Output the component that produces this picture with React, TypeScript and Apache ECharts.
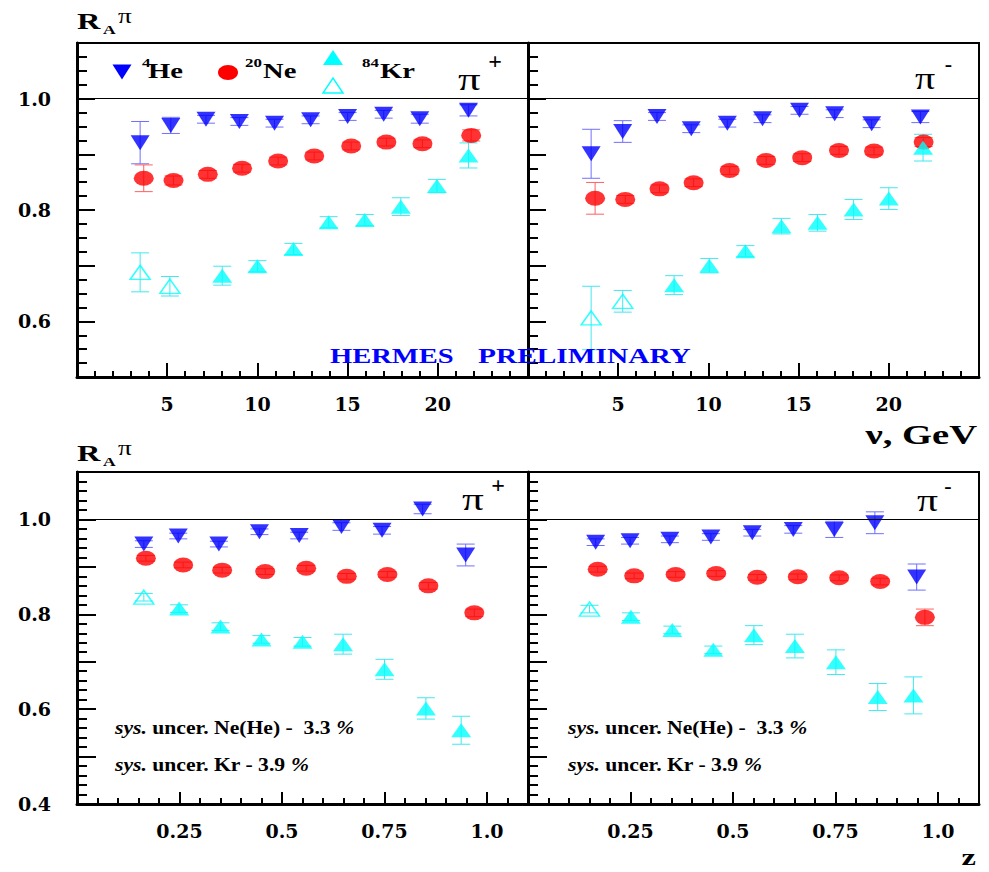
import React, { useEffect, useRef } from 'react';
import * as echarts from 'echarts';

// ---------- data: pi+ vs nu (top left) ----------
const nuHePlus = [3.5, 5.2, 7.15, 9.0, 10.95, 12.95, 15.0, 17.0, 19.0, 21.7];
const heNuPlus = [0.921, 0.952, 0.963, 0.959, 0.956, 0.962, 0.968, 0.972, 0.964, 0.979];
const heNuPlusErr = [0.038, 0.0145, 0.007, 0.007, 0.007, 0.007, 0.007, 0.007, 0.008, 0.01];
const nuNePlus = [3.7, 5.35, 7.25, 9.15, 11.15, 13.15, 15.2, 17.15, 19.15, 21.85];
const neNuPlus = [0.857, 0.853, 0.864, 0.875, 0.888, 0.897, 0.915, 0.922, 0.919, 0.934];
const neNuPlusErr = [0.024, 0.008, 0.007, 0.007, 0.007, 0.007, 0.007, 0.007, 0.007, 0.01];
const nuKrPlus = [3.5, 5.15, 8.05, 10.0, 12.0, 13.95, 15.95, 17.95, 19.95, 21.7];
const krNuPlus = [0.688, 0.663, 0.682, 0.699, 0.73, 0.778, 0.782, 0.806, 0.843, 0.898];
const krNuPlusErr = [0.035, 0.0175, 0.017, 0.01, 0.01, 0.01, 0.01, 0.016, 0.012, 0.0225];
const krNuPlusOpen = [true, true, false, false, false, false, false, false, false, false];

// ---------- data: pi- vs nu (top right) ----------
const nuHeMinus = [3.5, 5.25, 7.15, 9.05, 11.05, 13.0, 15.05, 17.0, 19.05, 21.75];
const heNuMinus = [0.901, 0.941, 0.968, 0.946, 0.956, 0.964, 0.979, 0.973, 0.955, 0.967];
const heNuMinusErr = [0.044, 0.0195, 0.007, 0.007, 0.007, 0.007, 0.007, 0.007, 0.007, 0.01];
const nuNeMinus = [3.72, 5.39, 7.29, 9.18, 11.18, 13.2, 15.2, 17.24, 19.18, 21.93];
const neNuMinus = [0.821, 0.819, 0.838, 0.849, 0.871, 0.889, 0.894, 0.907, 0.906, 0.922];
const neNuMinusErr = [0.0285, 0.007, 0.007, 0.007, 0.007, 0.007, 0.007, 0.007, 0.007, 0.008];
const nuKrMinus = [3.5, 5.25, 8.1, 10.05, 12.05, 14.05, 16.05, 18.05, 20.0, 21.9];
const krNuMinus = [0.606, 0.636, 0.665, 0.7, 0.726, 0.771, 0.777, 0.801, 0.8205, 0.912];
const krNuMinusErr = [0.057, 0.0195, 0.017, 0.013, 0.01, 0.014, 0.015, 0.018, 0.0195, 0.024];
const krNuMinusOpen = [true, true, false, false, false, false, false, false, false, false];

// ---------- data: pi+ vs z (bottom left) ----------
const zHePlus = [0.163, 0.247, 0.346, 0.445, 0.542, 0.645, 0.744, 0.843, 0.948];
const heZPlus = [0.948, 0.965, 0.948, 0.974, 0.966, 0.985, 0.977, 1.022, 0.925];
const heZPlusErr = [0.007, 0.006, 0.006, 0.006, 0.007, 0.008, 0.008, 0.01, 0.023];
const zNePlus = [0.168, 0.259, 0.354, 0.459, 0.559, 0.658, 0.757, 0.857, 0.969];
const neZPlus = [0.918, 0.904, 0.893, 0.89, 0.897, 0.88, 0.884, 0.86, 0.803];
const neZPlusErr = [0.006, 0.006, 0.006, 0.006, 0.006, 0.006, 0.006, 0.007, 0.008];
const zKrPlus = [0.163, 0.249, 0.35, 0.45, 0.55, 0.649, 0.75, 0.851, 0.937];
const krZPlus = [0.836, 0.812, 0.774, 0.747, 0.742, 0.737, 0.684, 0.6015, 0.5555];
const krZPlusErr = [0.008, 0.008, 0.008, 0.008, 0.009, 0.021, 0.021, 0.0225, 0.0295];
const krZPlusOpen = [true, false, false, false, false, false, false, false, false];

// ---------- data: pi- vs z (bottom right) ----------
const zHeMinus = [0.165, 0.249, 0.346, 0.446, 0.547, 0.647, 0.747, 0.846, 0.948];
const heZMinus = [0.952, 0.955, 0.958, 0.963, 0.972, 0.979, 0.979, 0.993, 0.8785];
const heZMinusErr = [0.007, 0.007, 0.007, 0.007, 0.007, 0.008, 0.017, 0.023, 0.0275];
const zNeMinus = [0.17, 0.259, 0.36, 0.459, 0.559, 0.658, 0.759, 0.859, 0.968];
const neZMinus = [0.895, 0.881, 0.884, 0.886, 0.878, 0.879, 0.877, 0.869, 0.7935];
const neZMinusErr = [0.006, 0.006, 0.006, 0.006, 0.006, 0.006, 0.006, 0.007, 0.0175];
const zKrMinus = [0.15, 0.251, 0.352, 0.452, 0.551, 0.651, 0.751, 0.853, 0.94];
const krZMinus = [0.811, 0.795, 0.767, 0.725, 0.756, 0.733, 0.699, 0.6255, 0.629];
const krZMinusErr = [0.008, 0.008, 0.008, 0.008, 0.02, 0.025, 0.026, 0.0285, 0.039];
const krZMinusOpen = [true, false, false, false, false, false, false, false, false];

// ---------- axis tick labels ----------
const nuTickLabels = ['5', '10', '15', '20'];
const zTickLabels = ['0.25', '0.5', '0.75', '1.0'];
const ratioTickLabels = ['0.4', '0.6', '0.8', '1.0'];

const HE_COLOR = '#0000ff';
const NE_COLOR = '#ff0000';
const KR_COLOR = '#00ffff';
const ELLIPSE = 'path://M0,5a5,5 0 1,0 10,0a5,5 0 1,0 -10,0z';
const LABEL_FONT = 'DejaVu Serif';
const TEXT_FONT = 'Liberation Serif';

function errSeries(xi: number, yi: number, xs: number[], ys: number[], es: number[], color: string) {
  return {
    type: 'custom',
    xAxisIndex: xi,
    yAxisIndex: yi,
    z: 2,
    silent: true,
    data: xs.map((x, i) => [x, ys[i] - es[i], ys[i] + es[i]]),
    renderItem: (_p: any, api: any) => {
      const x = api.value(0);
      const lo = api.coord([x, api.value(1)]);
      const hi = api.coord([x, api.value(2)]);
      const w = 9;
      const st = { stroke: color, lineWidth: 1 };
      return {
        type: 'group',
        children: [
          { type: 'line', shape: { x1: lo[0], y1: lo[1], x2: hi[0], y2: hi[1] }, style: st },
          { type: 'line', shape: { x1: lo[0] - w, y1: lo[1], x2: lo[0] + w, y2: lo[1] }, style: st },
          { type: 'line', shape: { x1: hi[0] - w, y1: hi[1], x2: hi[0] + w, y2: hi[1] }, style: st },
        ],
      };
    },
  };
}

type PanelData = {
  heX: number[]; he: number[]; heE: number[];
  neX: number[]; ne: number[]; neE: number[];
  krX: number[]; kr: number[]; krE: number[]; krOpen: boolean[];
};

function panelSeries(xi: number, yi: number, d: PanelData) {
  return [
    errSeries(xi, yi, d.heX, d.he, d.heE, '#7070ff'),
    errSeries(xi, yi, d.neX, d.ne, d.neE, '#ff6060'),
    errSeries(xi, yi, d.krX, d.kr, d.krE, '#40e8f0'),
    {
      type: 'scatter', xAxisIndex: xi, yAxisIndex: yi, z: 3,
      symbol: 'triangle', symbolRotate: 180, symbolSize: [19, 15],
      itemStyle: { color: HE_COLOR },
      data: d.heX.map((x, i) => [x, d.he[i]]),
      markLine: {
        silent: true, symbol: ['none', 'none'], label: { show: false },
        lineStyle: { color: '#000', width: 1, type: 'solid' },
        data: [{ yAxis: 1.0 }],
      },
    },
    {
      type: 'scatter', xAxisIndex: xi, yAxisIndex: yi, z: 4,
      symbol: ELLIPSE, symbolSize: [20, 15],
      itemStyle: { color: NE_COLOR },
      data: d.neX.map((x, i) => [x, d.ne[i]]),
    },
    {
      type: 'scatter', xAxisIndex: xi, yAxisIndex: yi, z: 5,
      symbol: 'triangle', symbolSize: [20, 14],
      itemStyle: { color: KR_COLOR },
      data: d.krX.map((x, i) => ({
        value: [x, d.kr[i]],
        itemStyle: d.krOpen[i]
          ? { color: 'rgba(255,255,255,0)', borderColor: KR_COLOR, borderWidth: 1.5 }
          : { color: KR_COLOR },
      })),
    },
  ];
}

const labelStyle = { fontFamily: LABEL_FONT, fontWeight: 'bold', fontSize: 19, color: '#000' };

function yAxisCfg(gi: number, min: number, minorSplit: number, majorLen: number, showLabels: boolean) {
  return {
    gridIndex: gi, type: 'value', min, max: 1.1, interval: 0.1, position: 'left',
    axisLine: { show: true, onZero: false, lineStyle: { color: '#000', width: 3 } },
    axisTick: { show: true, inside: true, length: majorLen, lineStyle: { color: '#000', width: 2 } },
    minorTick: { show: true, splitNumber: minorSplit, length: 10, lineStyle: { color: '#000', width: 2 } },
    splitLine: { show: false },
    axisLabel: {
      show: showLabels, margin: 26, ...labelStyle,
      formatter: (v: number) => (ratioTickLabels.includes(v.toFixed(1)) ? v.toFixed(1) : ''),
    },
  };
}

function nuAxis(gi: number) {
  return {
    gridIndex: gi, type: 'value', min: 0, max: 25, interval: 5, position: 'bottom',
    axisLine: { show: true, onZero: false, lineStyle: { color: '#000', width: 3 } },
    axisTick: { show: true, inside: true, length: 14, lineStyle: { color: '#000', width: 2 } },
    minorTick: { show: true, splitNumber: 5, length: 6, lineStyle: { color: '#000', width: 2 } },
    splitLine: { show: false },
    axisLabel: {
      margin: 17, ...labelStyle,
      formatter: (v: number) => {
        const s = String(Math.round(v));
        return Math.abs(v - Math.round(v)) < 1e-6 && nuTickLabels.includes(s) ? s : '';
      },
    },
  };
}

function zAxes(gi: number) {
  return [
    {
      gridIndex: gi, type: 'value', min: 0, max: 1.1, interval: 0.25, position: 'bottom',
      axisLine: { show: true, onZero: false, lineStyle: { color: '#000', width: 3 } },
      axisTick: { show: true, inside: true, length: 12, lineStyle: { color: '#000', width: 2 } },
      splitLine: { show: false },
      axisLabel: {
        margin: 17, ...labelStyle,
        formatter: (v: number) => {
          const r = Math.round(v * 100) / 100;
          const s = r === 1 ? '1.0' : String(r);
          return zTickLabels.includes(s) ? s : '';
        },
      },
    },
    {
      gridIndex: gi, type: 'value', min: 0, max: 1.1, interval: 0.05, position: 'bottom',
      axisLine: { show: false, onZero: false },
      axisTick: { show: true, inside: true, length: 6, lineStyle: { color: '#000', width: 2 } },
      splitLine: { show: false },
      axisLabel: { show: false },
    },
  ];
}

function txt(text: string, x: number, y: number, size: number, o: any = {}) {
  const align = o.align ?? 'left';
  return {
    type: 'text', x, y, scaleX: o.sx ?? 1.35, z: 100, silent: true,
    style: {
      text, fill: o.color ?? '#000', fontFamily: o.font ?? TEXT_FONT, fontSize: size,
      fontWeight: o.weight ?? 'bold', fontStyle: o.fontStyle ?? 'normal',
      align, textAlign: align, verticalAlign: 'middle', textVerticalAlign: 'middle',
      lineHeight: o.lh, rich: o.rich,
    },
  };
}

function sysText(x: number, y: number, rest: string) {
  const rich = {
    it: { fontFamily: TEXT_FONT, fontSize: 19, fontWeight: 'bold', fontStyle: 'italic', fill: '#000' },
    b: { fontFamily: TEXT_FONT, fontSize: 19, fontWeight: 'bold', fill: '#000' },
  };
  return txt(`{it|sys.}{b| uncer. ${rest} }{it|%}`, x, y, 19, { sx: 1.14, rich });
}

function graphics() {
  const g: any[] = [];
  // axis titles
  for (const base of [21, 453]) {
    g.push(txt('R', 77, base, 24));
    g.push(txt('A', 103, base + 8.5, 13));
    g.push(txt('π', 118, base - 5, 21, { weight: 'normal', sx: 1.3 }));
  }
  // legend
  g.push({ type: 'polygon', z: 100, shape: { points: [[112.5, 64.5], [131.5, 64.5], [122, 79.5]] }, style: { fill: HE_COLOR } });
  g.push(txt('4', 142, 62.5, 13, { sx: 1.3 }));
  g.push(txt('He', 148, 70.5, 22, { sx: 1.3 }));
  g.push({ type: 'ellipse', z: 100, shape: { cx: 228, cy: 72.5, rx: 10, ry: 7.5 }, style: { fill: NE_COLOR } });
  g.push(txt('20', 245, 62.5, 13, { sx: 1.3 }));
  g.push(txt('Ne', 263, 70.5, 22, { sx: 1.3 }));
  g.push({ type: 'polygon', z: 100, shape: { points: [[323, 65], [343, 65], [333, 50]] }, style: { fill: KR_COLOR } });
  g.push({ type: 'polygon', z: 100, shape: { points: [[323, 93], [343, 93], [333, 78]] }, style: { fill: 'none', stroke: KR_COLOR, lineWidth: 1.5 } });
  g.push(txt('84', 362, 62.5, 13, { sx: 1.3 }));
  g.push(txt('Kr', 380, 70.5, 22, { sx: 1.3 }));
  // pion charge labels
  const pg = { weight: 'normal' };
  g.push(txt('π', 458, 79, 32, { ...pg, sx: 1.4 }));
  g.push(txt('+', 495, 61, 24, { align: 'center', sx: 1 }));
  g.push(txt('π', 915, 78, 32, { ...pg, sx: 1.25 }));
  g.push(txt('-', 948.5, 63, 22, { align: 'center', sx: 1 }));
  g.push(txt('π', 462, 499, 32, { ...pg, sx: 1.35 }));
  g.push(txt('+', 498, 485, 24, { align: 'center', sx: 1 }));
  g.push(txt('π', 917, 500, 32, { ...pg, sx: 1.3 }));
  g.push(txt('-', 948, 485, 22, { align: 'center', sx: 1 }));
  // preliminary
  g.push(txt('HERMES', 330, 356.3, 21, { color: '#0000ff', sx: 1.36 }));
  g.push(txt('PRELIMINARY', 478, 356.3, 21, { color: '#0000ff', sx: 1.4 }));
  // axis names
  g.push(txt('ν, GeV', 977, 435, 27, { align: 'right', sx: 1.43 }));
  g.push(txt('z', 976, 857.5, 24, { align: 'right', sx: 1.35, lh: 22 }));
  // systematic uncertainties
  g.push(sysText(115, 727, 'Ne(He) -  3.3'));
  g.push(sysText(115, 764, 'Kr - 3.9'));
  g.push(sysText(568, 727, 'Ne(He) -  3.3'));
  g.push(sysText(568, 764, 'Kr - 3.9'));
  return g;
}

export default function App() {
  const ref = useRef<HTMLDivElement>(null);
  useEffect(() => {
    if (!ref.current) return;
    const chart = echarts.init(ref.current, undefined, { renderer: 'svg' });
    const gridBase = { show: true, borderColor: '#000', borderWidth: 2, containLabel: false, backgroundColor: 'transparent' };
    const grids = [
      { ...gridBase, left: 77, top: 43, width: 451, height: 334 },
      { ...gridBase, left: 528, top: 43, width: 451, height: 334 },
      { ...gridBase, left: 77, top: 472, width: 451, height: 332 },
      { ...gridBase, left: 528, top: 472, width: 451, height: 332 },
    ];
    const xAxes = [nuAxis(0), nuAxis(1), ...zAxes(2), ...zAxes(3)];
    const yAxes = [
      yAxisCfg(0, 0.5, 4, 18, true),
      yAxisCfg(1, 0.5, 4, 18, false),
      yAxisCfg(2, 0.4, 5, 19, true),
      yAxisCfg(3, 0.4, 5, 19, false),
    ];
    const series = [
      ...panelSeries(0, 0, {
        heX: nuHePlus, he: heNuPlus, heE: heNuPlusErr,
        neX: nuNePlus, ne: neNuPlus, neE: neNuPlusErr,
        krX: nuKrPlus, kr: krNuPlus, krE: krNuPlusErr, krOpen: krNuPlusOpen,
      }),
      ...panelSeries(1, 1, {
        heX: nuHeMinus, he: heNuMinus, heE: heNuMinusErr,
        neX: nuNeMinus, ne: neNuMinus, neE: neNuMinusErr,
        krX: nuKrMinus, kr: krNuMinus, krE: krNuMinusErr, krOpen: krNuMinusOpen,
      }),
      ...panelSeries(2, 2, {
        heX: zHePlus, he: heZPlus, heE: heZPlusErr,
        neX: zNePlus, ne: neZPlus, neE: neZPlusErr,
        krX: zKrPlus, kr: krZPlus, krE: krZPlusErr, krOpen: krZPlusOpen,
      }),
      ...panelSeries(4, 3, {
        heX: zHeMinus, he: heZMinus, heE: heZMinusErr,
        neX: zNeMinus, ne: neZMinus, neE: neZMinusErr,
        krX: zKrMinus, kr: krZMinus, krE: krZMinusErr, krOpen: krZMinusOpen,
      }),
    ];
    chart.setOption({
      animation: false,
      backgroundColor: '#ffffff',
      grid: grids,
      xAxis: xAxes,
      yAxis: yAxes,
      series,
      graphic: { elements: graphics() },
    });
    return () => chart.dispose();
  }, []);
  return (
    <div
      ref={ref}
      style={{ position: 'absolute', left: 0, top: 0, width: 989, height: 872, background: '#fff' }}
    />
  );
}
